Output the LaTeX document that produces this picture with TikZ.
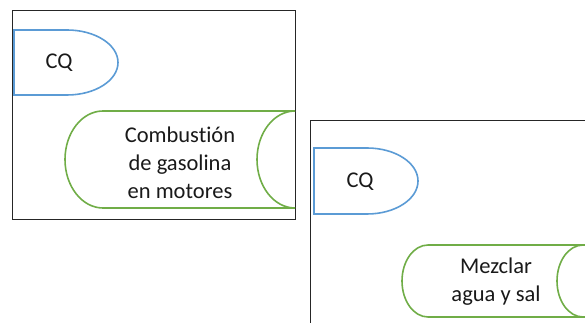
\documentclass[tikz,border=0pt]{standalone}
\usepackage{fontspec}
\setmainfont[Ligatures=NoCommon]{Carlito}
\definecolor{delayblue}{HTML}{5B9BD5}
\definecolor{storegreen}{HTML}{70AD47}
\begin{document}
\begin{tikzpicture}[x=1pt,y=1pt,
  frame/.style={draw=black!85,line width=1pt},
  delayshape/.style={draw=delayblue,line width=1.6pt},
  storeshape/.style={draw=storegreen,line width=1.6pt},
  label/.style={font=\fontsize{22.5}{28}\selectfont,align=center,text=black!90,inner sep=0pt}]
\useasboundingbox (0,0) rectangle (585,323);

% first panel
\draw[frame] (12,312) rectangle (295,103);
\draw[delayshape] (14,293) -- (67,293)
  arc[start angle=90,end angle=-90,x radius=51,y radius=32.5] -- (14,228) -- cycle;
\node[label] (cq1) at (59,260) {CQ};
\begin{scope}
  \clip (0,0) rectangle (295,323);
  \draw[storeshape] (300,212) -- (103,212)
    arc[start angle=90,end angle=270,x radius=38,y radius=48.5] -- (300,115);
  \draw[storeshape] (295,212)
    arc[start angle=90,end angle=270,x radius=38,y radius=48.5];
\end{scope}
\node[label] (proc1) at (180,160) {Combustión\\de gasolina\\en motores};

% second panel
\begin{scope}
  \clip (0,0) rectangle (585,323);
  \draw[frame] (310,-20) rectangle (620,202);
  \draw[delayshape] (314,175) -- (367,175)
    arc[start angle=90,end angle=-90,x radius=51,y radius=33] -- (314,109) -- cycle;
  \draw[storeshape] (600,78) -- (428,78)
    arc[start angle=90,end angle=270,x radius=26,y radius=36] -- (600,6);
  \draw[storeshape] (583,78)
    arc[start angle=90,end angle=270,x radius=26,y radius=36];
\end{scope}
\node[label] (cq2) at (360,141) {CQ};
\node[label] (proc2) at (496,41) {Mezclar\\agua y sal};
\end{tikzpicture}
\end{document}
